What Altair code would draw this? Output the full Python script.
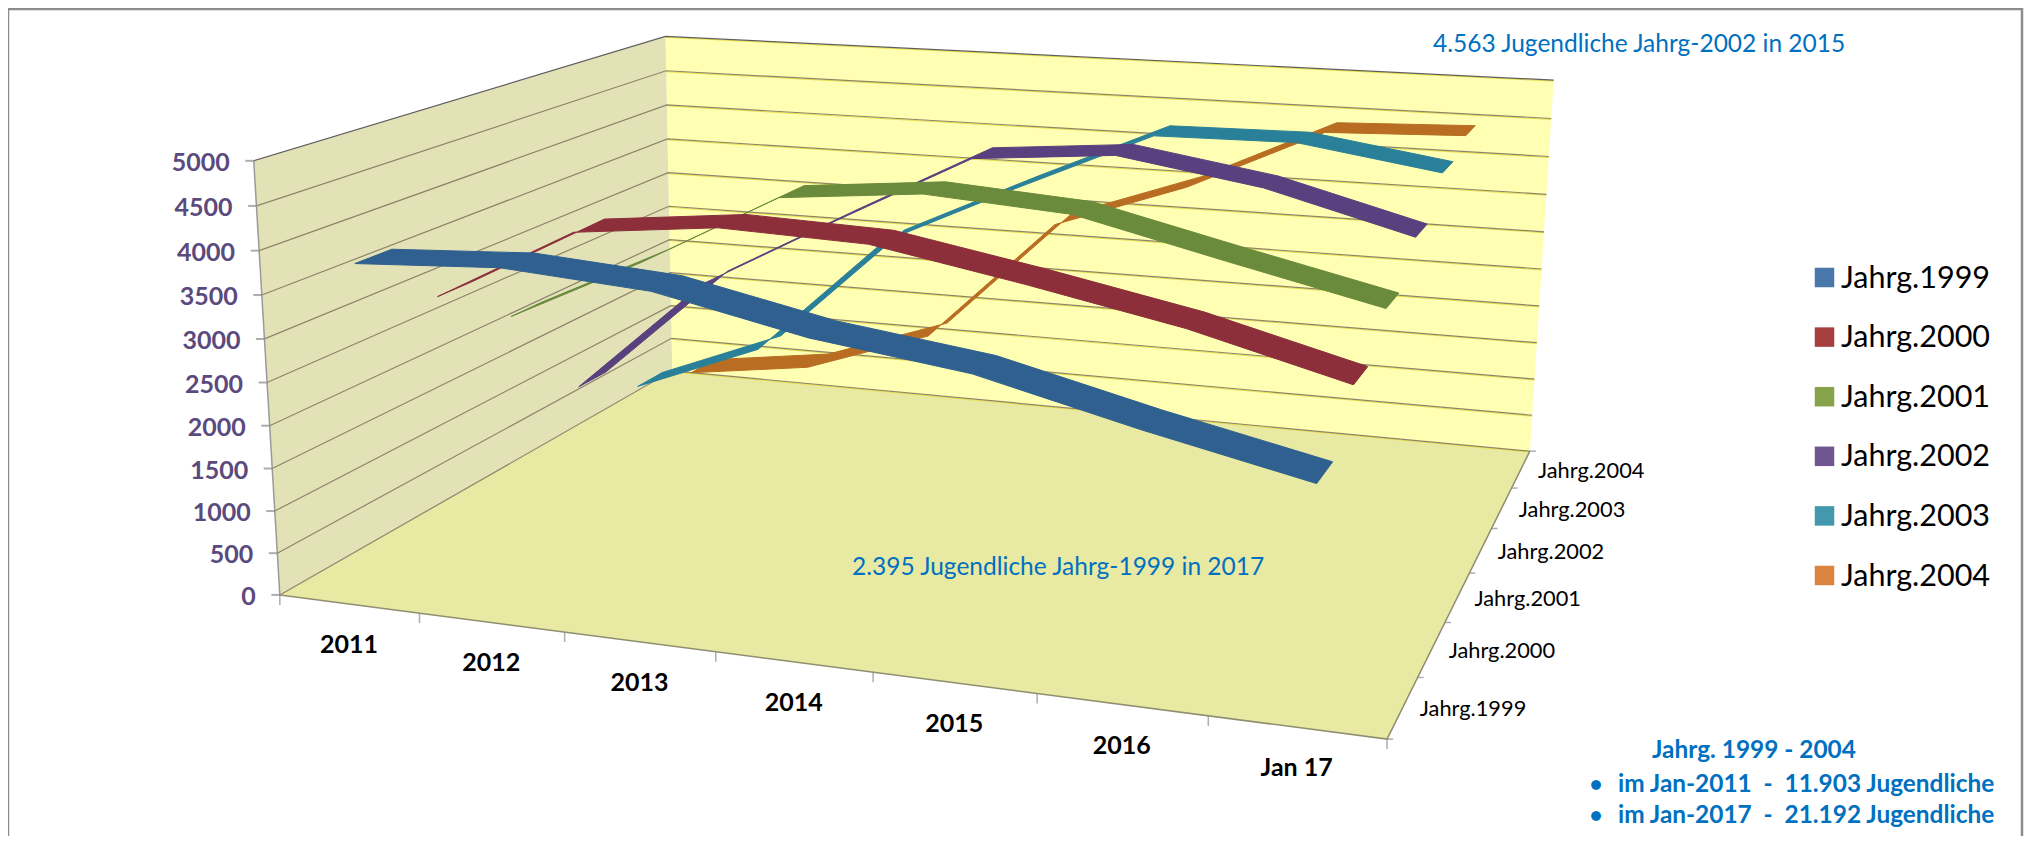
import altair as alt
import numpy as np
import pandas as pd

# ---------- data ----------
YEARS = ["2011", "2012", "2013", "2014", "2015", "2016", "Jan 17"]
SERIES = ["Jahrg.1999", "Jahrg.2000", "Jahrg.2001", "Jahrg.2002", "Jahrg.2003", "Jahrg.2004"]
JAHRG_1999 = [3820, 3907, 3785, 3426, 3198, 2775, 2395]
JAHRG_2000 = [3054, 3950, 4127, 4068, 3756, 3412, 2958]
JAHRG_2001 = [2410, 3231, 4143, 4304, 4185, 3774, 3377]
JAHRG_2002 = [1059, 2579, 3512, 4415, 4563, 4286, 3824]
JAHRG_2003 = [615, 1295, 2902, 3726, 4510, 4530, 4265]
JAHRG_2004 = [370, 609, 1215, 2911, 3537, 4370, 4432]
VALUES = [JAHRG_1999, JAHRG_2000, JAHRG_2001, JAHRG_2002, JAHRG_2003, JAHRG_2004]
Z_TICKS = [0, 500, 1000, 1500, 2000, 2500, 3000, 3500, 4000, 4500, 5000]
ZMAX = 5000

RIBBON = ["#30608f", "#8c2f3b", "#6a8a3c", "#59407f", "#2a8098", "#b86d23"]
SWATCH = ["#4a78ad", "#a63f3f", "#86a34c", "#6f5591", "#4398ae", "#da843f"]
PURPLE = "#5b4a7d"
BLUE = "#0070c0"

# ---------- camera: picture positions of the box corners (u, v, z) -> (px, py) ----------
CORNERS = [
    ((0, 0, 0), (280, 594)), ((1, 0, 0), (1387, 740)), ((1, 1, 0), (1530, 450)),
    ((0, 1, 0), (672, 372)), ((0, 0, 1), (253.6, 161)), ((0, 1, 1), (665.6, 35.7)),
    ((1, 1, 1), (1553.6, 80.7)),
]
A, b = [], []
for (u, v, z), (px, py) in CORNERS:
    A.append([u, v, z, 1, 0, 0, 0, 0, -px * u, -px * v, -px * z]); b.append(px)
    A.append([0, 0, 0, 0, u, v, z, 1, -py * u, -py * v, -py * z]); b.append(py)
P = np.linalg.lstsq(np.array(A, float), np.array(b, float), rcond=None)[0]
P = np.append(P, 1.0).reshape(3, 4)


def proj(u, v, z):
    h = P @ np.array([u, v, z, 1.0])
    return float(h[0] / h[2]), float(h[1] / h[2])


XS = alt.Scale(domain=[8, 2025], zero=False, nice=False)
YS = alt.Scale(domain=[836, 8], zero=False, nice=False)
X = alt.X("x:Q", scale=XS, axis=None)
Y = alt.Y("y:Q", scale=YS, axis=None)


def path_frame(points):
    return pd.DataFrame({"x": [p[0] for p in points], "y": [p[1] for p in points], "i": range(len(points))})


def poly(points, fill, stroke=None, sw=0.0, op=1.0):
    kw = dict(interpolate="linear-closed", fill=fill, strokeWidth=sw, fillOpacity=op)
    kw["stroke"] = stroke if stroke else fill
    return alt.Chart(path_frame(points)).mark_line(**kw).encode(x=X, y=Y, order=alt.Order("i:Q"))


def line(points, color, sw=1.0, **extra):
    return alt.Chart(path_frame(points)).mark_line(color=color, strokeWidth=sw, **extra).encode(
        x=X, y=Y, order=alt.Order("i:Q"))


def text(x, y, s, size, color="#000000", bold=False, align="left"):
    return alt.Chart(pd.DataFrame({"x": [x], "y": [y], "t": [s]})).mark_text(
        font="Lato", fontSize=size, color=color, fontWeight="bold" if bold else "normal",
        align=align, baseline="middle").encode(x=X, y=Y, text="t:N")


layers = []
# frame
layers.append(line([(8, 836), (8, 9), (2022, 9), (2022, 836)], "#8c8c8c", 2.5))
# walls and floor
layers.append(poly([proj(0, 1, 0), proj(0, 1, 1), proj(1, 1, 1), proj(1, 1, 0)], "#feffb2"))
layers.append(poly([proj(0, 0, 0), proj(0, 0, 1), proj(0, 1, 1), proj(0, 1, 0)], "#e2e2b6"))
layers.append(poly([proj(0, 0, 0), proj(1, 0, 0), proj(1, 1, 0), proj(0, 1, 0)], "#e8e9a3"))
# grid
for zv in Z_TICKS:
    z = zv / ZMAX
    top = zv == ZMAX
    layers.append(line([proj(0, 1, z), proj(1, 1, z)], "#e8e04a", 1, yOffset=1))
    layers.append(line([proj(0, 0, z), proj(0, 1, z), proj(1, 1, z)], "#5f5f5f" if top else "#8f846c", 1.2))
# axis edges
layers.append(line([proj(0, 0, 0), proj(0, 0, 1)], "#9a9a9a", 1.5))
layers.append(line([proj(0, 0, 0), proj(1, 0, 0), proj(1, 1, 0)], "#8f8f70", 1.5))
# ticks
zt = pd.DataFrame([dict(zip("xy", proj(0, 0, t / ZMAX))) | {"t": str(t)} for t in Z_TICKS])
layers.append(alt.Chart(zt).mark_tick(orient="horizontal", size=9, thickness=2, color="#8c8c8c", xOffset=-4).encode(x=X, y=Y))
layers.append(alt.Chart(zt).mark_text(font="Lato", fontSize=25, fontWeight="bold", color=PURPLE, align="right",
                                      baseline="middle", dx=-24, dy=2).encode(x=X, y=Y, text="t:N"))
ut = pd.DataFrame([dict(zip("xy", proj(k / 7, 0, 0))) for k in range(8)])
layers.append(alt.Chart(ut).mark_tick(orient="vertical", size=10, thickness=1.5, color="#8c8c8c", yOffset=5).encode(x=X, y=Y))
vt = pd.DataFrame([dict(zip("xy", proj(1, k / 6, 0))) for k in range(7)])
layers.append(alt.Chart(vt).mark_tick(orient="horizontal", size=6, thickness=1.5, color="#8c8c8c", xOffset=3).encode(x=X, y=Y))
# category labels
yl = pd.DataFrame([dict(zip("xy", proj((k + 0.5) / 7, 0, 0))) | {"t": y} for k, y in enumerate(YEARS)])
layers.append(alt.Chart(yl).mark_text(font="Lato", fontSize=25, fontWeight="bold", color="#000000", align="center",
                                      baseline="middle", dy=41).encode(x=X, y=Y, text="t:N"))
sl = pd.DataFrame([dict(zip("xy", proj(1, (s + 0.5) / 6, 0))) | {"t": n} for s, n in enumerate(SERIES)])
layers.append(alt.Chart(sl).mark_text(font="Lato", fontSize=21.8, color="#000000", align="left",
                                      baseline="middle", dx=17, dy=2).encode(x=X, y=Y, text="t:N"))
# ribbons, back to front
W = 0.075
for s in range(5, -1, -1):
    v = (s + 0.5) / 6
    front = [proj((k + 0.5) / 7, v - W / 2, val / ZMAX) for k, val in enumerate(VALUES[s])]
    back = [proj((k + 0.5) / 7, v + W / 2, val / ZMAX) for k, val in enumerate(VALUES[s])]
    layers.append(poly(front + back[::-1], RIBBON[s], RIBBON[s], 1.0))
# legend
for s, n in enumerate(SERIES):
    yy = 276.5 + s * 59.6
    layers.append(alt.Chart(pd.DataFrame({"x": [1824.5], "y": [yy + 1]})).mark_square(size=380, opacity=1, color=SWATCH[s]).encode(x=X, y=Y))
    layers.append(text(1841, yy + 2, n, 30.5))
# annotations
GAP = "\u00a0\u00a0-\u00a0\u00a0"
layers.append(text(1433, 45, "4.563 Jugendliche Jahrg-2002 in 2015", 24.5, BLUE))
layers.append(text(852, 568, "2.395 Jugendliche Jahrg-1999 in 2017", 24.5, BLUE))
layers.append(text(1652, 751, "Jahrg. 1999 - 2004", 24.4, BLUE, True))
layers.append(text(1590, 785, "●", 20, BLUE))
layers.append(text(1618, 785, "im Jan-2011" + GAP + "11.903 Jugendliche", 24.4, BLUE, True))
layers.append(text(1590, 816, "●", 20, BLUE))
layers.append(text(1618, 816, "im Jan-2017" + GAP + "21.192 Jugendliche", 24.4, BLUE, True))

chart = alt.layer(*layers).properties(
    width=2017, height=828, padding=0, background="white",
    autosize=alt.AutoSizeParams(type="none", contains="content"),
).configure_view(stroke=None)
chart.save("out.html", embed_options={"renderer": "svg", "actions": False})
